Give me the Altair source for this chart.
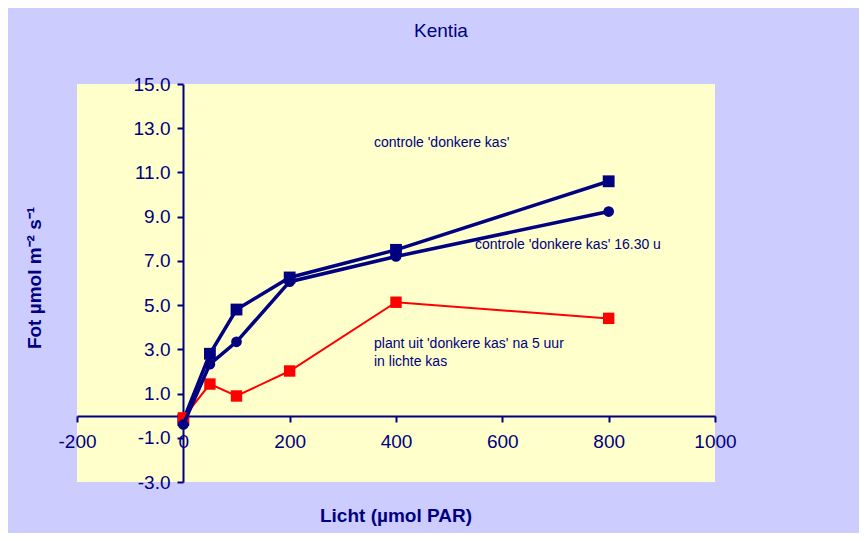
import altair as alt
import pandas as pd

licht = [0, 50, 100, 200, 400, 800]
controle = [-0.2, 2.8, 4.8, 6.25, 7.5, 10.6]
controle_1630 = [-0.4, 2.33, 3.34, 6.06, 7.2, 9.23]
plant_5uur = [-0.1, 1.43, 0.89, 2.02, 5.13, 4.40]

x_ticks = [-200, 0, 200, 400, 600, 800, 1000]
y_ticks = [-3, -1, 1, 3, 5, 7, 9, 11, 13, 15]

NAVY = "#000080"
RED = "#FF0000"
FONT = "Liberation Sans"

W, H = 638, 398

df = pd.DataFrame({
    "licht": licht,
    "controle": controle,
    "controle_1630": controle_1630,
    "plant_5uur": plant_5uur,
})

xscale = alt.Scale(domain=[-200, 1000], nice=False, zero=False)
yscale = alt.Scale(domain=[-3, 15], nice=False, zero=False)

xaxis = alt.Axis(
    values=x_ticks, title=None, orient="bottom", offset=-66,
    labelExpr="'' + datum.value",
    domainColor=NAVY, domainWidth=2, tickColor=NAVY, tickWidth=2, tickSize=6,
    labelColor=NAVY, labelFont=FONT, labelFontSize=19, labelPadding=10,
    grid=False, labelOverlap=False, labelFlush=False,
)
yaxis = alt.Axis(
    values=y_ticks, title=None, orient="left", offset=-106,
    labelExpr="datum.value < 0 ? '-' + format(-datum.value, '.1f') : format(datum.value, '.1f')",
    domainColor=NAVY, domainWidth=2, tickColor=NAVY, tickWidth=2, tickSize=6,
    labelColor=NAVY, labelFont=FONT, labelFontSize=19, labelPadding=7,
    grid=False, labelOverlap=False, labelFlush=False,
)

base = alt.Chart(df)


def series(col, color, shape, width, size):
    line = base.mark_line(color=color, strokeWidth=width).encode(
        x=alt.X("licht:Q", scale=xscale, axis=xaxis),
        y=alt.Y(f"{col}:Q", scale=yscale, axis=yaxis),
    )
    pts = base.mark_point(shape=shape, filled=True, color=color, size=size, opacity=1).encode(
        x=alt.X("licht:Q", scale=xscale, axis=xaxis),
        y=alt.Y(f"{col}:Q", scale=yscale, axis=yaxis),
    )
    return line + pts


s1 = series("controle", NAVY, "square", 3.5, 140)
s3 = series("plant_5uur", RED, "square", 2, 130)
s2 = series("controle_1630", NAVY, "circle", 3.5, 115)

texts = [
    ("Kentia", 364, -53, "center", "normal", 19),
    ("controle 'donkere kas'", 297, 59, "left", "normal", 14),
    ("controle 'donkere kas' 16.30 u", 398, 161, "left", "normal", 14),
    ("plant uit 'donkere kas' na 5 uur", 297, 260, "left", "normal", 14),
    ("in lichte kas", 297, 278, "left", "normal", 14),
    ("Licht (µmol PAR)", 319, 432, "center", "bold", 19),
]

text_layers = []
for t, px, py, al, fw, fs in texts:
    text_layers.append(
        alt.Chart(pd.DataFrame({"t": [t]})).mark_text(
            align=al, baseline="middle", color=NAVY, font=FONT,
            fontWeight=fw, fontSize=fs,
        ).encode(x=alt.value(px), y=alt.value(py), text="t:N")
    )

ytitle = alt.Chart(pd.DataFrame({"t": ["Fot µmol m⁻² s⁻¹"]})).mark_text(
    angle=270, align="center", baseline="middle", color=NAVY, font=FONT,
    fontWeight="bold", fontSize=19,
).encode(x=alt.value(-42), y=alt.value(194), text="t:N")

chart = alt.layer(s1, s3, s2, *text_layers, ytitle).properties(
    width=W, height=H,
    padding={"left": 69, "top": 76, "right": 144, "bottom": 51},
    autosize=alt.AutoSizeParams(type="none"),
).configure(background="#CCCCFF").configure_view(fill="#FFFFCC", stroke=None)

chart.save("out.html", embed_options={"renderer": "svg", "actions": False})
